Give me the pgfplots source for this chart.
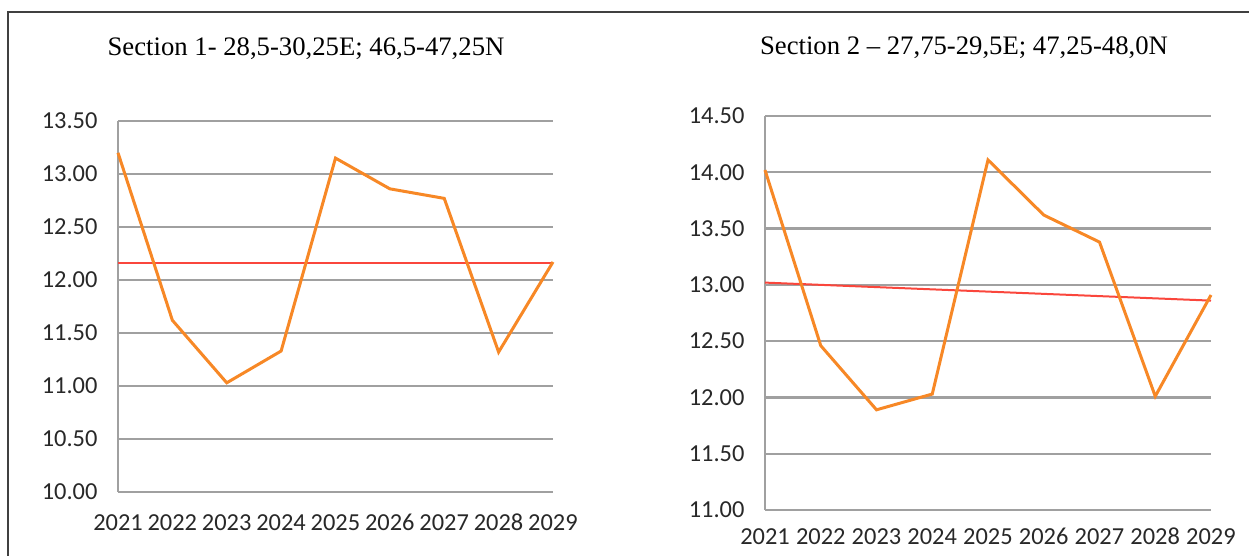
\documentclass[border=0pt]{standalone}
\usepackage{pgfplots}
\pgfplotsset{compat=1.18}
\usepackage{fontspec}
\setmainfont{Liberation Serif}
\newfontfamily\calfont{Carlito}
\definecolor{lineorange}{RGB}{247,136,38}
\definecolor{trendred}{RGB}{250,70,60}
\definecolor{gridgray}{RGB}{160,160,160}
\definecolor{ticktext}{RGB}{40,40,40}
\pgfplotsset{
  sec/.style={
    scale only axis,
    xmin=2021, xmax=2029,
    xtick={2021,...,2029},
    axis lines*=left,
    axis line style={gridgray, line width=1.8bp},
    x axis line style={draw=none},
    ymajorgrids,
    major grid style={draw=gridgray, line width=2.2bp},
    major tick length=0pt,
    tick label style={font=\calfont\fontsize{24.5}{24.5}\selectfont, text=ticktext},
    /pgf/number format/assume math mode=true,
    x tick label style={/pgf/number format/1000 sep={}, anchor=base, text height=16bp, text depth=0bp},
    y tick label style={/pgf/number format/fixed, /pgf/number format/fixed zerofill, /pgf/number format/precision=2, xshift=-17bp},
    clip=false,
  }
}
\begin{document}
\begin{tikzpicture}
\path[use as bounding box] (0,0) rectangle (1249bp,556bp);
\draw[black!75, line width=1.3bp] (8bp,0) -- (8bp,544bp) -- (1249bp,544bp);
\node[font=\fontsize{26.8}{30}\selectfont] at (306bp,507bp) {Section 1- 28,5-30,25E; 46,5-47,25N};
\node[font=\fontsize{26.8}{30}\selectfont] at (964bp,508bp) {Section 2 – 27,75-29,5E; 47,25-48,0N};
\begin{axis}[sec,
  at={(118bp,64bp)}, anchor=south west,
  width=435bp, height=371bp,
  ymin=10, ymax=13.5, ytick={10,10.5,...,13.5},
  x tick label style={yshift=-39bp}]
\addplot[trendred, line width=2bp] coordinates {(2021,12.16) (2029,12.16)};
\addplot[lineorange, line width=3bp] coordinates {
(2021,13.20) (2022,11.62) (2023,11.03) (2024,11.33) (2025,13.15)
(2026,12.86) (2027,12.77) (2028,11.32) (2029,12.17)};
\end{axis}
\begin{axis}[sec,
  at={(765bp,46bp)}, anchor=south west,
  width=446bp, height=394bp,
  ymin=11, ymax=14.5, ytick={11,11.5,...,14.5},
  x tick label style={yshift=-35bp}]
\addplot[trendred, line width=2bp] coordinates {(2021,13.02) (2029,12.86)};
\addplot[lineorange, line width=3bp] coordinates {
(2021,14.02) (2022,12.46) (2023,11.89) (2024,12.03) (2025,14.11)
(2026,13.62) (2027,13.38) (2028,12.01) (2029,12.91)};
\end{axis}
\end{tikzpicture}
\end{document}
